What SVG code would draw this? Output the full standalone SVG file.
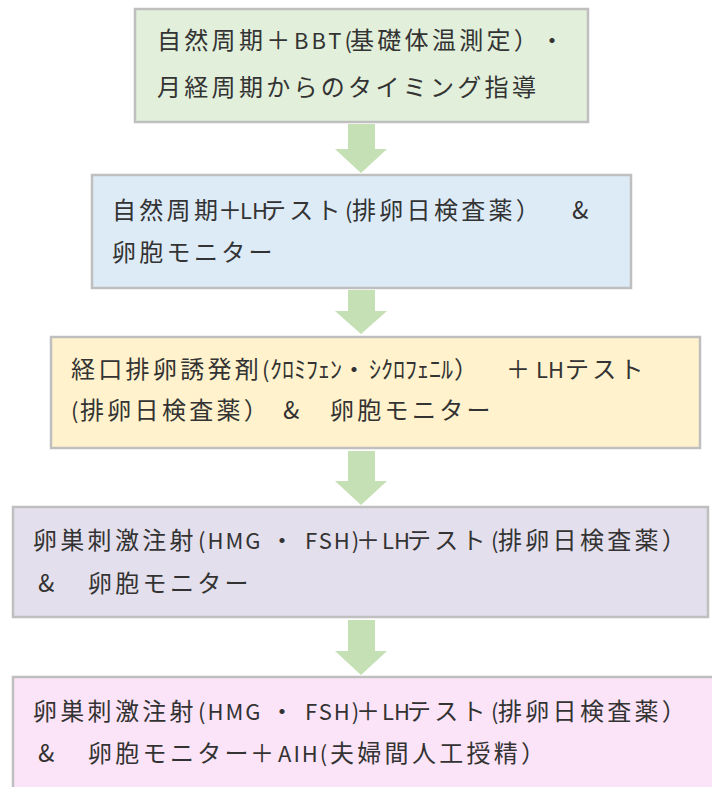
<svg xmlns="http://www.w3.org/2000/svg" width="712" height="787" viewBox="0 0 712 787">
<defs>
<style>
.box{stroke:#BFBFBF;stroke-width:2.5}
.t{font-family:"Noto Sans CJK JP","Noto Sans",sans-serif;font-size:24px;fill:#333333;letter-spacing:3.3px}
.l{font-size:22px;letter-spacing:2px}
.l0{font-size:22px;letter-spacing:0px}
.lb{font-size:22px;letter-spacing:3px}
.k{font-size:24px;letter-spacing:0px}
.arrow{fill:#C5E0B4}
</style>
</defs>
<rect width="712" height="787" fill="#FFFFFF"/>
<g id="connectors">
<path class="arrow" d="M348,124 H375 V149 H387 L361,173 L335,149 H348 Z"/>
<path class="arrow" d="M348,290 H375 V311 H387 L361,334 L335,311 H348 Z"/>
<path class="arrow" d="M348,451 H375 V481 H387 L361,505 L335,481 H348 Z"/>
<path class="arrow" d="M348,620 H375 V651 H387 L361,675 L335,651 H348 Z"/>
</g>
<g id="node1">
<rect class="box" x="135" y="9" width="453" height="113" fill="#E2EFDA"/>
<text class="t" y="49"><tspan x="157">自然周期＋</tspan><tspan x="294" class="lb">BBT(</tspan><tspan x="350">基礎体温測定）</tspan><tspan x="540">・</tspan></text>
<text class="t" x="157" y="96">月経周期からのタイミング指導</text>
</g>
<g id="node2">
<rect class="box" x="92" y="175" width="539" height="113" fill="#DDEBF7"/>
<text class="t" y="219"><tspan x="112">自然周期</tspan><tspan x="218">＋</tspan><tspan x="240" class="l0">LH</tspan><tspan x="262">テスト</tspan><tspan x="345" class="l0">(</tspan><tspan x="352">排卵日検査薬）</tspan><tspan x="572">&amp;</tspan></text>
<text class="t" x="112" y="261">卵胞モニター</text>
</g>
<g id="node3">
<rect class="box" x="51" y="337" width="649" height="111" fill="#FFF2CC"/>
<text class="t" y="378"><tspan x="71">経口排卵誘発剤</tspan><tspan x="262" class="l0">(</tspan><tspan x="270" class="k">ｸﾛﾐﾌｪﾝ</tspan><tspan x="342">・</tspan><tspan x="369" class="k">ｼｸﾛﾌｪﾆﾙ</tspan><tspan x="454">）</tspan><tspan x="506">＋</tspan><tspan x="536" class="l0">LH</tspan><tspan x="565">テスト</tspan></text>
<text class="t" y="419"><tspan x="71" class="l0">(</tspan><tspan x="80">排卵日検査薬）</tspan><tspan x="283">&amp;</tspan><tspan x="330">卵胞モニター</tspan></text>
</g>
<g id="node4">
<rect class="box" x="13" y="507" width="695" height="110" fill="#E4DFEC"/>
<text class="t" y="549"><tspan x="33">卵巣刺激注射</tspan><tspan x="198" class="l">(HMG</tspan><tspan x="270">・</tspan><tspan x="305" class="l">FSH)</tspan><tspan x="356">＋</tspan><tspan x="382" class="l0">LH</tspan><tspan x="407">テスト</tspan><tspan x="491" class="l0">(</tspan><tspan x="498">排卵日検査薬）</tspan></text>
<text class="t" y="592"><tspan x="38">&amp;</tspan><tspan x="88">卵胞モニター</tspan></text>
</g>
<g id="node5">
<rect class="box" x="13" y="677" width="712" height="130" fill="#FCE4F8"/>
<text class="t" y="720"><tspan x="33">卵巣刺激注射</tspan><tspan x="198" class="l">(HMG</tspan><tspan x="270">・</tspan><tspan x="305" class="l">FSH)</tspan><tspan x="356">＋</tspan><tspan x="382" class="l0">LH</tspan><tspan x="407">テスト</tspan><tspan x="491" class="l0">(</tspan><tspan x="498">排卵日検査薬）</tspan></text>
<text class="t" y="762"><tspan x="38">&amp;</tspan><tspan x="88">卵胞モニター</tspan><tspan x="250">＋</tspan><tspan x="278" class="l">AIH(</tspan><tspan x="330">夫婦間人工授精）</tspan></text>
</g>
</svg>
